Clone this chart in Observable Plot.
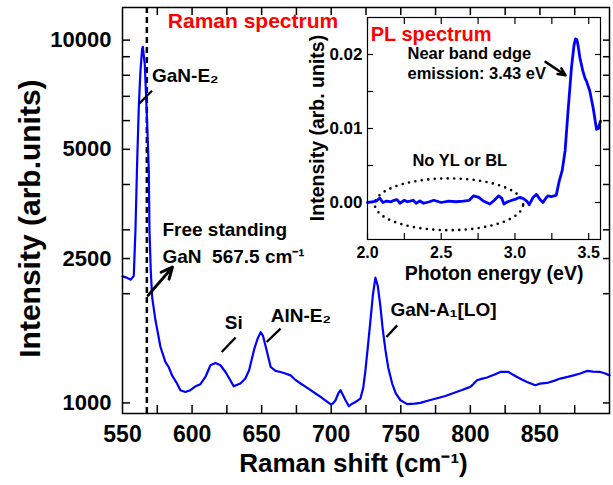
<!DOCTYPE html>
<html><head><meta charset="utf-8">
<script src="https://cdn.jsdelivr.net/npm/d3@7"></script>
<script src="https://cdn.jsdelivr.net/npm/@observablehq/plot@0.6"></script>
<style>
body{margin:0;background:#fff;}
#wrap{position:relative;width:613px;height:485px;overflow:hidden;}
#inset{position:absolute;left:300px;top:0;}
svg{overflow:visible;}
</style></head><body><div id="wrap"><div id="main"></div><div id="inset"></div></div>
<script>
// ---------- Main Raman spectrum ----------
const ramanShift = [550,553,556,558.1,559.3,560.5,561.7,562.9,564.1,564.6,566,567,567.9,568.9,569.4,570.3,571.3,573.7,577.3,580.9,583.2,585.6,589.2,591.6,595.2,598.8,602.4,606,609.6,613.2,616.8,620.4,624,627.5,629.9,632,634.7,638.3,641,644.5,647,649.3,651,653,656.5,660,663.6,667,670.8,674,678,682,685.2,689,692.4,696,699.5,701,703.1,705,706.7,708.5,710.3,712.7,715,717.5,721,723,724.6,726.5,728.2,730,731.8,733.5,735.4,737,739,741,743.8,746.5,749.8,754.6,760,764.1,770,776.1,782,788,794,800,802,804.8,808,812,817,821.6,827.5,830,833.6,837,840.7,846.7,850,855.1,860,864.6,870,874.2,879,883.8,888,893.4,897,900];
const ramanIntensity = [2232,2215,2186,2240,2986,4560,6525,8232,9441,9585,8590,6950,5628,4365,2986,2318,1957,1689,1426,1296,1256,1191,1131,1084,1072,1084,1111,1126,1179,1270,1288,1270,1217,1155,1111,1120,1131,1167,1230,1400,1500,1567,1530,1426,1256,1225,1217,1205,1191,1160,1131,1105,1084,1060,1039,1015,992,995,1017,1060,1084,1050,1017,979,995,1006,1028,1100,1230,1450,1689,1990,2214,2100,1837,1600,1396,1250,1131,1060,1017,992,995,1000,1015,1030,1045,1065,1085,1107,1125,1155,1165,1175,1195,1217,1217,1200,1179,1160,1142,1119,1130,1135,1150,1167,1180,1191,1205,1225,1220,1217,1205,1191];
const ramanXLabels = [550,600,650,700,750,800,850];
const ramanXTicks = [575,600,625,650,675,700,725,750,775,800,825,850,875];
const ramanYLabels = [1000,2500,5000,10000];
const ramanYTicks = [1000,2000,2500,3000,4000,5000,6000,7000,8000,9000,10000];
const freeStandingGaN = [567.5];
const ramanNotes = [
  {text:"GaN-E₂", x:571.2, y:7976},
  {text:"Free standing", x:578.7, y:3006},
  {text:"GaN\u00a0\u00a0567.5 cm⁻¹", x:578.7, y:2522},
  {text:"AlN-E₂", x:656.5, y:1732},
  {text:"GaN-A₁[LO]", x:742.6, y:1807}
];
const siNote = [{text:"Si", x:629.9, y:1657}];
const ramanTitle = [{text:"Raman spectrum", x:643.8, y:11300}];
const ramanXTitle = [{text:"Raman shift (cm⁻¹)", x:716, y:680}];
const ramanYTitle = [{text:"Intensity (arb.units)", x:483.9, y:3222}];
const ramanLeaders = [
  {x1:562.2,y1:6691,x2:571.2,y2:7254},
  {x1:621.3,y1:1381,x2:631.3,y2:1514},
  {x1:653.6,y1:1472,x2:663.6,y2:1602},
  {x1:739.7,y1:1519,x2:747.4,y2:1636}
];
const ramanArrow = [{x1:568.4,y1:1979,x2:585.9,y2:2367}];

// ---------- Inset PL spectrum ----------
const plEnergy = [2.00,2.03,2.06,2.083,2.104,2.13,2.16,2.18,2.20,2.22,2.25,2.27,2.31,2.33,2.355,2.38,2.42,2.45,2.50,2.55,2.60,2.65,2.69,2.72,2.755,2.785,2.83,2.86,2.89,2.91,2.925,2.95,2.98,3.01,3.035,3.06,3.08,3.097,3.12,3.146,3.17,3.19,3.21,3.225,3.245,3.265,3.28,3.30,3.32,3.34,3.36,3.383,3.40,3.41,3.42,3.428,3.44,3.46,3.475,3.485,3.507,3.53,3.553,3.565,3.58];
const plIntensity = [0,0.0001,0.0002,0.0006,0,0.0002,0.0001,0.0003,0.0004,-0.0001,0.0003,0.0001,0.0003,-0.0001,0.0002,-0.0001,0.0001,0.0003,0,0.0002,0.0001,0.0002,0.0003,0.0009,0.0007,0.0002,-0.0002,0.0003,0.0009,0.0006,-0.0002,0.0001,0.0003,0.0005,0.0007,0.0005,0.0002,-0.0003,0.0006,0.0011,0.0004,0,0.0006,0.0009,0.0008,0.0009,0.0010,0.0029,0.0043,0.0070,0.0124,0.0182,0.0212,0.0221,0.0220,0.0212,0.0196,0.0178,0.0168,0.0164,0.0151,0.0128,0.0099,0.0100,0.0110];
const plXLabels = [2.0,2.5,3.0,3.5];
const plXTicks = [2.0,2.25,2.5,2.75,3.0,3.25,3.5];
const plYLabels = [0,0.01,0.02];
const plYTicks = [0,0.005,0.01,0.015,0.02];
const plNotes = [
  {text:"Near band edge", x:2.271, y:0.02004},
  {text:"emission: 3.43 eV", x:2.271, y:0.01746}
];
const plNoDefect = [{text:"No YL or BL", x:2.626, y:0.00566}];
const plTitle = [{text:"PL spectrum", x:2.022, y:0.02275}];
const plYTitle = [{text:"Intensity (arb. units)", x:1.6635, y:0.01007}];
const plXTitle = [{text:"Photon energy (eV)", x:2.858, y:-0.0096}];
const plArrow = [{x1:3.207,y1:0.019,x2:3.343,y2:0.01719}];
const plEllipse = {cx:2.5525, cy:-0.00024, rx:0.503, ry:0.0035};

const FONT = '"Liberation Sans", Arial, Helvetica, sans-serif';
const BLUE = "#0000ff", RED = "#ff0000";

const ramanData = ramanShift.map((x,i)=>({x, y:ramanIntensity[i]}));
const plData = plEnergy.map((x,i)=>({x, y:plIntensity[i]}));
const ellipsePts = d3.range(0, 361, 3).map(a => ({
  x: plEllipse.cx + plEllipse.rx*Math.cos(a*Math.PI/180),
  y: plEllipse.cy + plEllipse.ry*Math.sin(a*Math.PI/180)
}));

const main = Plot.plot({
  width: 613, height: 485,
  marginLeft: 122, marginRight: 4, marginTop: 7, marginBottom: 72,
  style: {fontFamily: FONT, background: "transparent", color: "#000", fontWeight: "bold"},
  x: {domain: [550, 900]},
  y: {type: "log", domain: [935, 12300]},
  marks: [
    Plot.axisX({ticks: ramanXTicks, tickSize: -8, tickFormat: () => "", label: null, strokeWidth: 1.5}),
    Plot.axisX({anchor: "top", ticks: ramanXTicks, tickSize: -7, tickFormat: () => "", label: null, strokeWidth: 1.5}),
    Plot.axisX({ticks: ramanXLabels, tickSize: 0, tickPadding: 12, tickFormat: d => String(d), label: null, fontSize: 23, fontWeight: "bold"}),
    Plot.axisY({ticks: ramanYTicks, tickSize: -8, tickFormat: () => "", label: null, strokeWidth: 1.5}),
    Plot.axisY({anchor: "right", ticks: ramanYTicks, tickSize: -7, tickFormat: () => "", label: null, strokeWidth: 1.5}),
    Plot.axisY({ticks: ramanYLabels, tickSize: 0, tickPadding: 11, tickFormat: d => String(d), label: null, fontSize: 22, fontWeight: "bold"}),
    Plot.ruleX(freeStandingGaN, {x: d => d, stroke: "#000", strokeWidth: 2.5, strokeDasharray: "6,4"}),
    Plot.line(ramanData, {x: "x", y: "y", stroke: BLUE, strokeWidth: 2.2}),
    Plot.link(ramanLeaders, {x1:"x1", y1:"y1", x2:"x2", y2:"y2", stroke:"#000", strokeWidth: 2.3}),
    Plot.arrow(ramanArrow, {x1:"x1", y1:"y1", x2:"x2", y2:"y2", stroke:"#000", strokeWidth: 3, headLength: 13, headAngle: 50}),
    Plot.text(ramanNotes, {x:"x", y:"y", text:"text", textAnchor:"start", fontSize: 19, fontWeight:"bold", fill:"#000"}),
    Plot.text(siNote, {x:"x", y:"y", text:"text", textAnchor:"middle", fontSize: 19, fontWeight:"bold", fill:"#000"}),
    Plot.text(ramanTitle, {x:"x", y:"y", text:"text", textAnchor:"middle", fontSize: 21, fontWeight:"bold", fill: RED}),
    Plot.text(ramanXTitle, {x:"x", y:"y", text:"text", textAnchor:"middle", fontSize: 26, fontWeight: "bold", fill: "#000"}),
    Plot.text(ramanYTitle, {x:"x", y:"y", text:"text", textAnchor:"middle", rotate: -90, fontSize: 30, fontWeight: "bold", fill: "#000"}),
    Plot.frame({stroke: "#000", strokeWidth: 1.5})
  ]
});
document.getElementById("main").append(main);

const inset = Plot.plot({
  width: 313, height: 290,
  marginLeft: 67, marginRight: 13, marginTop: 17, marginBottom: 51,
  style: {fontFamily: FONT, background: "transparent", color: "#000", fontWeight: "bold"},
  x: {domain: [2.0, 3.58]},
  y: {domain: [-0.005, 0.025]},
  marks: [
    Plot.frame({fill: "#fff", stroke: "none"}),
    Plot.axisX({ticks: plXTicks, tickSize: -6, tickFormat: () => "", label: null, strokeWidth: 1.2}),
    Plot.axisX({anchor: "top", ticks: plXTicks, tickSize: -6, tickFormat: () => "", label: null, strokeWidth: 1.2}),
    Plot.axisX({ticks: plXLabels, tickSize: 0, tickPadding: 7, tickFormat: d3.format(".1f"), label: null, fontSize: 16, fontWeight: "bold"}),
    Plot.axisY({ticks: plYTicks, tickSize: -6, tickFormat: () => "", label: null, strokeWidth: 1.2}),
    Plot.axisY({anchor: "right", ticks: plYTicks, tickSize: -6, tickFormat: () => "", label: null, strokeWidth: 1.2}),
    Plot.axisY({ticks: plYLabels, tickSize: 0, tickPadding: 5, tickFormat: d3.format(".2f"), label: null, fontSize: 17, fontWeight: "bold"}),
    Plot.line(ellipsePts, {x:"x", y:"y", stroke:"#000", strokeWidth: 2.6, strokeDasharray: "0,6.5", strokeLinecap: "round"}),
    Plot.line(plData, {x:"x", y:"y", stroke: BLUE, strokeWidth: 2.8}),
    Plot.arrow(plArrow, {x1:"x1", y1:"y1", x2:"x2", y2:"y2", stroke:"#000", strokeWidth: 2.5, headLength: 11, headAngle: 50}),
    Plot.text(plNotes, {x:"x", y:"y", text:"text", textAnchor:"start", fontSize: 16.5, fontWeight:"bold", fill:"#000"}),
    Plot.text(plNoDefect, {x:"x", y:"y", text:"text", textAnchor:"middle", fontSize: 16.5, fontWeight:"bold", fill:"#000"}),
    Plot.text(plTitle, {x:"x", y:"y", text:"text", textAnchor:"start", fontSize: 20, fontWeight:"bold", fill: RED}),
    Plot.text(plXTitle, {x:"x", y:"y", text:"text", textAnchor:"middle", fontSize: 19.5, fontWeight: "bold", fill: "#000"}),
    Plot.text(plYTitle, {x:"x", y:"y", text:"text", textAnchor:"middle", rotate: -90, fontSize: 19.5, fontWeight: "bold", fill: "#000"}),
    Plot.frame({stroke: "#000", strokeWidth: 1.2})
  ]
});
document.getElementById("inset").append(inset);
</script>
</body></html>
